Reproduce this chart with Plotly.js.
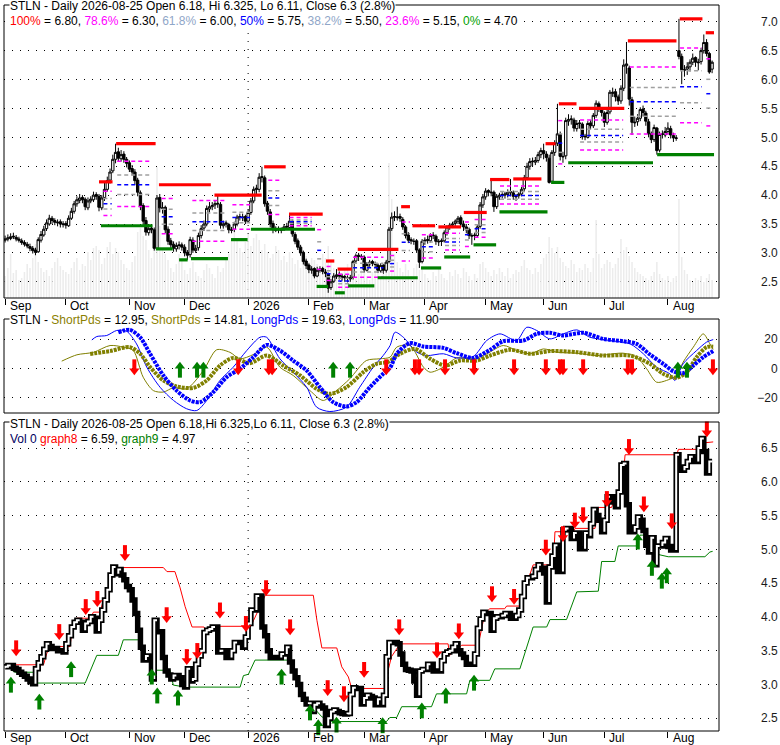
<!DOCTYPE html>
<html>
<head>
<meta charset="utf-8">
<script src="https://cdn.plot.ly/plotly-3.0.1.min.js"></script>
<style>
html,body{margin:0;padding:0;background:#fff}
#chart{width:780px;height:745px}
</style>
</head>
<body>
<div id="chart"></div>
<script>
// ---- data ----
var monthNames = ['2026','Feb','Mar','Apr','May','Jun','Jul','Aug','Sep','Oct','Nov','Dec'];

var close = [
3.24,3.26,3.28,3.28,3.24,3.22,3.18,3.15,3.12,3.08,
3.04,3.01,3.23,3.32,3.41,3.52,3.60,3.56,3.53,3.53,
3.50,3.50,3.48,3.60,3.72,3.85,3.92,3.95,3.92,3.80,
3.90,3.93,4.00,3.98,3.79,3.95,4.10,4.25,4.40,4.62,
4.74,4.64,4.70,4.62,4.55,4.45,4.40,4.25,4.05,3.80,
3.55,3.36,3.42,3.40,3.08,3.95,3.78,3.78,3.40,3.20,
3.14,3.08,3.13,3.13,3.10,3.00,2.96,3.23,3.05,3.08,
3.30,3.42,3.50,3.77,3.80,3.82,3.85,3.85,3.48,3.50,
3.50,3.40,3.40,3.50,3.62,3.62,3.62,3.55,3.70,3.90,
4.10,4.10,4.31,4.31,3.85,3.72,3.50,3.40,3.40,3.40,
3.40,3.45,3.45,3.55,3.33,3.20,3.10,3.00,2.85,2.78,
2.71,2.72,2.60,2.70,2.72,2.68,2.65,2.39,2.50,2.60,
2.62,2.60,2.58,2.57,2.56,2.57,2.85,2.95,2.94,2.94,
2.71,2.80,2.84,2.82,2.80,2.70,2.78,2.70,2.84,3.41,
3.62,3.62,3.62,3.60,3.45,3.30,3.22,3.21,3.20,3.05,
2.84,3.20,3.22,3.22,3.30,3.30,3.20,3.20,3.20,3.35,
3.45,3.48,3.50,3.55,3.60,3.50,3.45,3.40,3.30,3.30,
3.30,3.45,3.83,3.97,4.07,4.05,4.05,3.80,3.98,4.00,
4.00,4.02,4.05,4.05,3.98,3.98,4.02,4.10,4.30,4.50,
4.58,4.58,4.60,4.70,4.77,4.72,4.65,4.22,4.74,4.90,
5.06,4.67,4.67,5.29,5.31,5.31,5.16,5.24,5.24,5.01,
5.01,5.24,5.20,5.38,5.59,5.50,5.43,5.26,5.43,5.78,
5.78,5.70,5.63,5.85,6.25,6.27,5.66,5.26,5.26,5.33,
5.48,5.43,5.28,5.06,4.96,5.17,4.77,5.05,5.05,5.10,
5.16,5.04,4.99,4.99,6.40,6.17,6.17,6.22,6.30,6.37,
6.30,6.30,6.50,6.64,6.45,6.13,6.30];

var open = [
3.22,3.24,3.25,3.29,3.27,3.24,3.21,3.18,3.15,3.11,
3.08,3.05,3.02,3.22,3.31,3.42,3.50,3.60,3.56,3.52,
3.54,3.49,3.51,3.47,3.60,3.72,3.85,3.91,3.96,3.93,
3.78,3.90,3.92,4.01,3.98,3.78,3.96,4.10,4.26,4.42,
4.62,4.75,4.63,4.71,4.62,4.56,4.46,4.40,4.26,4.04,
3.82,3.56,3.35,3.43,3.40,3.08,3.96,3.77,3.79,3.41,
3.21,3.15,3.07,3.14,3.14,3.10,3.01,2.97,3.22,3.04,
3.09,3.30,3.43,3.50,3.76,3.80,3.83,3.86,3.84,3.47,
3.52,3.49,3.39,3.41,3.50,3.63,3.61,3.63,3.55,3.70,
3.90,4.12,4.10,4.32,4.30,3.86,3.71,3.51,3.39,3.41,
3.39,3.40,3.46,3.44,3.55,3.32,3.21,3.10,3.01,2.86,
2.79,2.70,2.73,2.60,2.70,2.73,2.67,2.64,2.40,2.51,
2.59,2.63,2.60,2.59,2.57,2.55,2.58,2.86,2.96,2.93,
2.93,2.70,2.81,2.85,2.81,2.79,2.69,2.79,2.70,2.85,
3.42,3.63,3.61,3.63,3.58,3.45,3.31,3.23,3.20,3.21,
3.05,2.85,3.20,3.23,3.21,3.31,3.29,3.19,3.21,3.21,
3.35,3.44,3.48,3.51,3.55,3.61,3.50,3.45,3.41,3.29,
3.31,3.30,3.46,3.83,3.97,4.08,4.04,4.05,3.80,3.97,
4.01,4.00,4.01,4.06,4.04,3.97,3.99,4.02,4.11,4.30,
4.50,4.59,4.57,4.60,4.70,4.77,4.71,4.64,4.24,4.74,
4.90,5.05,4.66,4.68,5.28,5.32,5.30,5.15,5.25,5.23,
5.02,5.00,5.25,5.20,5.38,5.58,5.50,5.42,5.26,5.44,
5.76,5.79,5.70,5.63,5.85,6.24,6.20,5.65,5.25,5.27,
5.33,5.49,5.42,5.27,5.06,4.96,5.16,4.78,5.06,5.04,
5.10,5.15,5.03,4.98,6.50,6.40,6.16,6.18,6.22,6.30,
6.38,6.29,6.31,6.50,6.64,6.45,6.18];

var high = [
3.30,3.32,3.34,3.35,3.31,3.28,3.25,3.22,3.19,3.16,
3.12,3.09,3.27,3.38,3.47,3.58,3.66,3.64,3.60,3.58,
3.58,3.55,3.55,3.65,3.78,3.90,3.98,4.02,4.00,3.96,
3.96,3.98,4.06,4.05,4.02,4.00,4.23,4.32,4.46,4.70,
4.89,4.82,4.78,4.76,4.66,4.60,4.52,4.45,4.30,4.08,
3.86,3.62,3.50,3.50,3.44,4.00,4.02,3.88,3.82,3.46,
3.26,3.20,3.18,3.20,3.18,3.15,3.05,3.28,3.27,3.14,
3.35,3.48,3.56,3.82,3.88,3.88,3.90,4.00,3.88,3.56,
3.56,3.52,3.45,3.54,3.66,3.68,3.68,3.66,3.75,3.95,
4.15,4.18,4.38,4.49,4.34,3.90,3.76,3.56,3.46,3.46,
3.44,3.50,3.52,3.67,3.58,3.36,3.25,3.14,3.04,2.90,
2.82,2.77,2.75,2.76,2.77,2.76,2.72,2.66,2.55,2.65,
2.72,2.68,2.64,2.62,2.61,2.62,2.88,2.99,3.00,2.98,
2.96,2.84,2.88,2.88,2.85,2.82,2.82,2.80,2.88,3.45,
3.70,3.72,3.80,3.68,3.62,3.48,3.36,3.27,3.25,3.24,
3.08,3.24,3.27,3.30,3.34,3.36,3.32,3.24,3.25,3.39,
3.48,3.52,3.54,3.58,3.64,3.65,3.56,3.50,3.44,3.34,
3.35,3.50,3.88,4.02,4.12,4.10,4.27,4.08,4.02,4.04,
4.05,4.06,4.10,4.28,4.08,4.02,4.05,4.14,4.35,4.56,
4.64,4.65,4.66,4.75,4.82,4.89,4.76,4.70,4.78,4.95,
5.58,5.10,4.75,5.34,5.40,5.38,5.34,5.30,5.30,5.26,
5.06,5.28,5.30,5.42,5.64,5.62,5.52,5.45,5.48,5.82,
5.86,5.84,5.74,5.90,6.35,6.65,6.24,5.70,5.36,5.40,
5.52,5.55,5.46,5.32,5.10,5.22,5.18,5.10,5.12,5.18,
5.26,5.20,5.08,5.04,7.05,6.45,6.25,6.30,6.35,6.45,
6.40,6.36,6.55,6.78,6.70,6.48,6.33];

var low = [
3.18,3.20,3.22,3.24,3.20,3.18,3.14,3.11,3.08,3.03,
2.99,2.96,3.00,3.18,3.28,3.38,3.47,3.50,3.48,3.46,
3.44,3.44,3.42,3.45,3.57,3.68,3.80,3.86,3.86,3.74,
3.74,3.86,3.88,3.92,3.72,3.74,3.90,4.06,4.20,4.38,
4.55,4.58,4.58,4.56,4.48,4.40,4.34,4.18,3.98,3.74,
3.48,3.30,3.30,3.34,3.04,3.06,3.70,3.68,3.34,3.14,
3.08,3.02,3.02,3.06,3.04,2.94,2.88,2.92,3.00,3.00,
3.04,3.25,3.38,3.46,3.70,3.74,3.76,3.78,3.42,3.42,
3.44,3.34,3.34,3.36,3.46,3.56,3.55,3.50,3.52,3.66,
3.86,4.02,4.05,4.22,3.80,3.66,3.44,3.34,3.36,3.34,
3.34,3.38,3.40,3.40,3.28,3.15,3.05,2.95,2.80,2.72,
2.65,2.64,2.56,2.58,2.66,2.63,2.58,2.31,2.36,2.48,
2.55,2.54,2.52,2.50,2.49,2.50,2.54,2.82,2.86,2.88,
2.66,2.68,2.76,2.77,2.74,2.65,2.66,2.64,2.66,2.82,
3.38,3.55,3.56,3.54,3.40,3.25,3.17,3.15,3.14,3.00,
2.74,2.82,3.14,3.16,3.18,3.24,3.14,3.12,3.12,3.18,
3.30,3.40,3.43,3.46,3.50,3.45,3.38,3.34,3.24,3.14,
3.22,3.26,3.42,3.78,3.92,3.98,3.98,3.71,3.76,3.92,
3.94,3.94,3.96,3.98,3.92,3.90,3.94,3.98,4.06,4.26,
4.44,4.50,4.52,4.56,4.64,4.62,4.58,4.20,4.22,4.68,
4.85,4.60,4.56,4.62,5.20,5.22,5.10,5.10,5.15,4.96,
4.95,4.98,5.14,5.16,5.34,5.44,5.36,5.18,5.22,5.40,
5.70,5.62,5.56,5.58,5.80,6.10,5.55,5.04,5.18,5.20,
5.28,5.36,5.20,5.00,4.90,4.92,4.70,4.74,4.98,5.00,
5.05,4.98,4.92,4.94,6.35,5.92,6.05,6.08,6.14,6.25,
6.22,6.16,6.26,6.45,6.40,6.10,6.11];

var volume = [
22,30,44,25,28,18,20,26,34,30,
40,54,36,30,26,28,22,30,36,40,
32,28,26,24,30,36,40,28,34,32,
46,38,50,52,48,34,40,51,56,44,
50,46,38,34,30,28,36,42,66,70,
62,58,48,40,52,131,72,50,44,38,
30,26,34,44,40,28,24,30,36,26,
22,20,28,34,30,24,20,32,26,30,
40,44,58,71,60,50,46,56,64,52,
60,64,58,48,54,46,40,44,52,48,
38,42,36,46,40,34,38,30,44,42,
36,40,38,34,30,44,40,52,36,30,
28,26,24,30,34,22,26,20,24,30,
28,22,18,26,30,24,20,28,36,135,
99,44,36,30,26,34,28,22,30,34,
28,32,24,20,18,26,22,30,24,20,
18,26,22,28,24,20,30,26,22,18,
24,20,34,36,30,26,22,28,24,30,
26,22,30,20,24,28,26,32,38,30,
28,24,30,26,34,40,44,61,50,45,
51,40,36,32,30,38,34,26,30,28,
34,30,26,40,78,44,30,34,38,36,
30,34,40,59,48,51,42,36,30,26,
24,22,20,18,22,26,36,24,20,18,
22,16,20,22,99,41,28,24,18,16,
20,18,22,16,20,24,18];

// swing high (100%) / swing low (0%) segments, in trading-day positions
var redStart = [34,40.2,55.7,75.8,93.8,102.8,116.2,120.4,127.7,143.4,147.5,156.9,166.1,175.6,184,195.7,200.5,207.8,225.5,244.3,253.7];
var redEnd   = [38.9,54.5,74.5,92.9,101.6,115,119.2,125.5,142.4,146.6,155.7,165.1,174.4,182.6,194.2,199.3,206.9,224.2,243.1,252.5,256.7];
var redLevel = [4.23,4.89,4.18,4.00,4.49,3.67,2.86,2.72,3.06,3.80,3.47,3.45,3.70,4.27,4.28,4.89,5.58,5.50,6.67,7.05,6.81];

var greenStart = [34.7,54.6,63,67.3,81.8,89,112.8,119.4,124.2,134.9,150.6,159,169.6,179,197.7,203.9,236.1];
var greenEnd   = [53.4,60.7,66.1,80.7,87.8,112.2,117,123,133.7,149.4,157.9,168.4,177.8,196.4,202.5,234.6,256.7];
var greenLevel = [3.47,3.07,2.88,2.90,3.23,3.41,2.42,2.31,2.43,2.57,2.74,2.93,3.14,3.71,4.22,4.56,4.70];

var fibStart = [35.6,40.6,56.7,67.8,82.3,95.3,103,113,116.4,120.6,126,139.4,143.6,150.9,159.3,166.5,170,179.2,200.3,208.2,226.2,244.4,253.9];
var fibEnd   = [38.6,52.5,61,80,88.7,100,111,115,118.8,124.8,137,141.2,146.6,155.1,164.7,169,175,193.7,202.1,223.8,243.1,252.2,255.8];
var fibHi    = [4.23,4.89,4.18,4.18,4.00,4.49,3.67,3.67,2.86,2.72,3.06,3.06,3.80,3.47,3.45,3.70,3.70,4.28,5.58,5.50,6.67,7.05,6.81];
var fibLo    = [3.47,3.47,3.07,2.90,3.23,3.41,3.41,2.42,2.42,2.31,2.43,2.57,2.57,2.74,2.93,2.93,3.14,3.71,4.22,4.56,4.56,4.70,4.70];
var fibRatios = [0.786,0.618,0.5,0.382,0.236];

// oscillator panel
var sfX = [20.5,26,32,38,42.8,46.4,50,53.7,57.3,61,65.7,71.8,76.6,81.4,85,89.9,94.7,99.5,104.3,110.4,115.2,120,124.8,130.8,135.7,139.4,141.8,146.6,151.5,153.9,158.7,163.5,169.5,174.4,180.4,185.2,190.1,194.9,199.7,207,214.2,223.8,228.7,232.3,235.9,239.5,243.1,245.5,249.2,252.8,255.2,256.4];
var sfY = [5,9.3,11,15.6,14.5,12.2,-5.9,-15,-16,-13,-13.8,-1.4,12.7,11,6.6,9.5,14.5,0.9,-4.7,-15,-21.7,-15,-7,5.4,6.6,7.7,14.5,15.6,0.9,-2.5,0.9,7.2,6.6,10,15.6,12.2,10,13.3,11.1,10.4,8.8,10.4,7.7,-0.2,-9.3,-8.1,-4.7,4.3,14.5,23.5,16.7,12.95];
var ssX = [30.8,38,45.2,48.9,52.5,57.3,62.1,68.2,73,77.8,82.6,88.7,94.7,100.7,106.8,112.8,117.6,123.6,129.7,134.5,138.7,143,148.4,153.9,159.3,164.7,170.8,175.6,182.8,190.1,197.3,207,216.6,226.3,233.5,238.3,243.1,246.8,250.4,254,256.4];
var ssY = [9.9,11.8,14.5,10,1,-8.1,-12.2,-13.1,-8.1,2,7.2,3.6,8.8,2,-4.7,-13.8,-17.2,-12.7,-2.5,3.2,4.5,10,13.3,6.6,2,5.4,5.4,8.8,12.7,10,11.8,11.1,8.8,8.8,3.2,-3.6,-6.3,-2.5,7.7,14.5,14.81];
var lfX = [31.4,33.2,36.8,40.4,44,47.6,51.3,56.1,61,65.7,69.4,73,77.8,82.6,87.5,92.3,94.7,99.5,104.3,109.2,112.8,117.6,123.6,128.4,133.3,136.9,139.4,141.2,144.2,149.1,152.7,158.7,163.5,169.5,174.4,179.2,185.2,188.9,192.5,197.3,202.1,207,211.8,219,226.3,231.1,235.9,240.7,242.5,245.5,250.4,254,256.4];
var lfY = [19.4,21.7,22.4,25.8,25.3,16.7,0.9,-12.7,-21.7,-27.3,-28.5,-21.7,-8.1,0.9,12.2,21.2,21.2,6.6,-2.5,-12.7,-26.2,-29.2,-26.2,-12.7,0.9,8.8,15.6,24.6,21.2,11.1,8.8,10,7.2,8.1,19,23.5,19,28,25.8,20.1,23.5,26.2,21.2,19,16.7,10,0.9,-3.6,-8.1,3.2,12.2,17.9,19.63];
var lsX = [41,45.2,48.9,52.5,57.3,62.1,67,70.6,75.4,80.2,85,89.9,94.7,99.5,104.3,109.2,114,118.8,123.6,127.3,132.1,136.9,139.4,141.8,146.6,151.5,158.7,163.5,169.5,175.6,180.4,187.7,192.5,197.3,202.1,209.4,216.6,223.8,228.7,233.5,238.3,241.9,245.5,249.2,252.8,256.4];
var lsY = [24.6,26.2,21.2,10,-4.7,-15,-21.7,-22.8,-16,-5.9,-0.2,7.7,16,12.2,5.4,-1.4,-12.7,-22.8,-25.8,-22.8,-12.7,-3.6,0.5,10,17.2,14.9,14,10.4,7.2,12.7,18.5,19,23.5,24.2,22.4,24.2,20.1,18.5,16.7,9.5,3.2,-1.8,-3.2,2,7.7,11.9];
var midDownX = [46.8,84.4,95.5,96.7,138,148.4,149.9,159.3,169.8,184.3,195.8,200.9,202,209.3,225.5,227,256.3];
var midDownY = [-0.3,-0.3,-0.3,-0.3,-0.3,-0.3,-0.3,-0.3,-0.3,-0.3,-0.3,-0.3,-0.3,-0.3,-0.3,-0.3,-0.3];
var midUpX = [63.3,69.5,71.8,118.8,124.9,243.6,246.9];
var midUpY = [0.3,0.3,0.3,0.3,0.3,0.3,0.3];

// lower panel: trailing lines and signals
var g8X = [2.4,13.9,15.1,16.3,23.5,24.1,25.9,30.8,32,34.4,35.6,37.4,38,39.2,41,57.3,58.6,61.5,63.3,65.2,67.7,72,73,74.9,75.5,89,90,94.2,111.6,112.9,114.7,120.1,121.9,124.3,125.5,137.5,138.7,139.9,143,160.4,161,162.3,164.1,165.3,171.3,173.7,175.5,180.9,181.6,187,188.2,189.8,191.2,198.5,199.1,205.8,206.4,213.6,214.8,219.6,222,223.3,224.5,243.2,243.8,250.4,251.6,256.4];
var g8Y = [3.29,3.29,3.46,3.56,3.56,3.75,3.98,3.98,4.07,4.07,4.25,4.25,4.5,4.64,4.73,4.73,4.67,4.67,4.44,4.15,3.85,3.85,3.78,3.80,3.86,3.86,3.95,4.32,4.32,3.95,3.54,3.54,3.26,3.11,2.94,2.94,3.21,3.41,3.60,3.60,3.43,3.53,3.53,3.58,3.58,4.05,4.12,4.12,4.16,4.16,4.45,4.60,4.77,4.77,5.26,5.26,5.31,5.31,5.62,5.62,5.87,5.87,6.40,6.40,6.48,6.48,6.57,6.59];
var g9X = [2.4,3.6,10.3,10.9,29,33.2,41,42.8,48.9,51.3,54.9,59.7,60.9,65.2,85.1,86.3,88.1,90.5,102.6,105,108.6,111.6,114.7,118.3,138.1,139.3,141.8,143.6,154.4,156.2,167.1,168.3,175.5,177.3,186.4,188.8,191.2,196.1,197.3,203.3,207,214.8,216,220.8,222,228.7,229.9,232.3,234.7,240.1,253.4,255.2,256.2];
var g9Y = [3.21,3.18,3.18,3.02,3.02,3.43,3.43,3.66,3.66,3.41,3.21,3.21,2.99,2.96,2.96,3.13,3.15,3.36,3.36,3.16,2.71,2.66,2.52,2.45,2.45,2.51,2.51,2.67,2.67,2.86,2.86,3.06,3.06,3.23,3.23,3.55,3.85,3.85,3.96,3.96,4.37,4.38,4.82,4.82,5.05,5.05,5.21,5.21,4.94,4.89,4.89,4.96,4.97];
var sellX = [4,19.6,29.2,33.4,43.4,58.5,65.8,69.6,77.8,87.2,94.5,103.2,116.8,122.7,130,142.7,156.4,164.3,176.3,184.3,195.8,202,206.3,209.3,217.9,225.9,231.3,241.4,254.1];
var sellY = [3.51,3.75,4.12,4.24,4.92,4.0,3.38,3.47,4.07,3.87,4.4,3.82,2.92,2.83,3.19,3.82,3.48,3.76,4.31,4.27,5.0,5.2,5.4,5.48,5.72,6.49,5.64,5.39,6.75];
var buyX = [2.1,12.4,23.9,53.1,55.1,62.6,100.1,110.4,113.4,120,136.7,150.9,159.6,169.8,229.1,234.2,237.8,239.6];
var buyY = [3.02,2.77,3.25,3.14,2.86,2.83,3.14,2.61,2.39,2.43,2.42,2.64,2.86,3.05,5.14,4.75,4.56,4.64];

// ---- layout helpers ----
var W = 780, H = 745;
function py(p){ return 1 - p / H; }
function px(p){ return p / W; }
var FONT = 'Liberation Sans, Arial, sans-serif';

// trading days (weekdays) Sep 1 2025 .. Aug 25 2026
var days = [];
var d = new Date(Date.UTC(2025, 8, 1));
var last = new Date(Date.UTC(2026, 7, 25));
while (d <= last) {
  var wd = d.getUTCDay();
  if (wd !== 0 && wd !== 6) days.push(new Date(d.getTime()));
  d.setUTCDate(d.getUTCDate() + 1);
}
var idx = days.map(function(_, i){ return i; });
var monthTicks = [], monthText = [];
days.forEach(function(day, i){
  if (i === 0 || day.getUTCMonth() !== days[i-1].getUTCMonth()) {
    monthTicks.push(i);
    monthText.push(monthNames[day.getUTCMonth()]);
  }
});
var yearTick = monthTicks[monthText.indexOf('2026')];

var traces = [];

// volume in the background of the top panel
traces.push({type:'bar', x:idx, y:volume, xaxis:'x', yaxis:'y',
  marker:{color:'#ececec', line:{width:0}}, width:0.55, hoverinfo:'skip'});

// fib levels
var fibColors = ['#ff00ff','#a0a0a0','#0000ff','#a0a0a0','#ff00ff'];
fibRatios.forEach(function(r, k){
  var xs = [], ys = [];
  for (var j = 0; j < fibStart.length; j++) {
    var v = fibLo[j] + r * (fibHi[j] - fibLo[j]);
    xs.push(fibStart[j], fibEnd[j], null); ys.push(v, v, null);
  }
  traces.push({type:'scatter', mode:'lines', x:xs, y:ys, xaxis:'x', yaxis:'y4',
    line:{color:fibColors[k], width:1.5, dash:'4px,3px'}, hoverinfo:'skip'});
});
function segTrace(s, e, v, color){
  var xs = [], ys = [];
  for (var j = 0; j < s.length; j++) { xs.push(s[j], e[j], null); ys.push(v[j], v[j], null); }
  return {type:'scatter', mode:'lines', x:xs, y:ys, xaxis:'x', yaxis:'y4',
    line:{color:color, width:3.2}, hoverinfo:'skip'};
}
traces.push(segTrace(redStart, redEnd, redLevel, '#ff0000'));
traces.push(segTrace(greenStart, greenEnd, greenLevel, '#008000'));

// candles
traces.push({type:'candlestick', x:idx, open:open, high:high, low:low, close:close,
  xaxis:'x', yaxis:'y4', whiskerwidth:0,
  increasing:{line:{color:'#000', width:1}, fillcolor:'#fff'},
  decreasing:{line:{color:'#000', width:1}, fillcolor:'#000'},
  hoverinfo:'skip'});

// oscillator
traces.push({type:'scatter', mode:'lines', x:sfX, y:sfY, xaxis:'x2', yaxis:'y2',
  line:{color:'#808000', width:1, shape:'spline', smoothing:0.8}});
traces.push({type:'scatter', mode:'lines', x:lfX, y:lfY, xaxis:'x2', yaxis:'y2',
  line:{color:'#0000ff', width:1, shape:'spline', smoothing:0.8}});
traces.push({type:'scatter', mode:'lines', x:ssX, y:ssY, xaxis:'x2', yaxis:'y2',
  line:{color:'#808000', width:4, shape:'spline', smoothing:0.8, dash:'3px,1px'}});
traces.push({type:'scatter', mode:'lines', x:lsX, y:lsY, xaxis:'x2', yaxis:'y2',
  line:{color:'#0000ff', width:4, shape:'spline', smoothing:0.8, dash:'3px,1px'}});

function arrows(xs, ys, up, color, xa, ya, ppu){
  var s = up ? -1 : 1;
  var head = ys.map(function(v){ return v - s * 1.75 / ppu; });
  var stem = ys.map(function(v){ return v + s * 4 / ppu; });
  return [
    {type:'scatter', mode:'markers', x:xs, y:stem, xaxis:xa, yaxis:ya, cliponaxis:false,
      marker:{symbol:'line-ns', size:8, color:color, line:{color:color, width:4}}, hoverinfo:'skip'},
    {type:'scatter', mode:'markers', x:xs, y:head, xaxis:xa, yaxis:ya, cliponaxis:false,
      marker:{symbol:up ? 'triangle-up' : 'triangle-down', size:9, color:color, line:{width:0}}, hoverinfo:'skip'}
  ];
}
var midPPU = 1.475, lowPPU = 67.6;
traces = traces.concat(arrows(midDownX, midDownY, false, '#ff0000', 'x2', 'y2', midPPU));
traces = traces.concat(arrows(midUpX, midUpY, true, '#008000', 'x2', 'y2', midPPU));

// lower panel
traces.push({type:'scatter', mode:'lines', x:g8X, y:g8Y, xaxis:'x3', yaxis:'y3',
  line:{color:'#ff0000', width:1}});
traces.push({type:'scatter', mode:'lines', x:g9X, y:g9Y, xaxis:'x3', yaxis:'y3',
  line:{color:'#008000', width:1}});
traces.push({type:'scatter', mode:'lines', x:idx, y:close, xaxis:'x3', yaxis:'y3',
  line:{color:'#000', width:5.5, shape:'vh'}});
var wx = [], wy = [];
for (var i = 1; i < close.length; i++) {
  if (close[i] > close[i-1]) {
    if (wx.length && wx[wx.length-1] === i-1) { wx.push(i); wy.push(close[i]); }
    else {
      if (wx.length) { wx.push(null); wy.push(null); }
      wx.push(i-1, i); wy.push(close[i-1], close[i]);
    }
  }
}
traces.push({type:'scatter', mode:'lines', x:wx, y:wy, xaxis:'x3', yaxis:'y3',
  line:{color:'#fff', width:2, shape:'vh'}, connectgaps:false});
traces = traces.concat(arrows(sellX, sellY, false, '#ff0000', 'x3', 'y3', lowPPU));
traces = traces.concat(arrows(buyX, buyY, true, '#008000', 'x3', 'y3', lowPPU));

// ---- axes ----
var xr = [-0.4, 258.5];
var xdom = [px(4), px(719)];
function xAxis(anchor, withTicks){
  return {domain:xdom, range:xr, anchor:anchor, showgrid:false, zeroline:false,
    showline:false, showticklabels:false, ticks:withTicks ? 'outside' : '',
    ticklen:6, tickcolor:'#000', tickwidth:1, tickvals:monthTicks,
    rangeslider:{visible:false}, fixedrange:true};
}
var gridDash = '1px,7px';
function yAxis(dom, range, vals, fmt){
  return {domain:dom, range:range, anchor:'free', position:0.997, side:'left',
    tickvals:vals, tickformat:fmt, ticks:'', showline:false, zeroline:false,
    showgrid:true, gridcolor:'#000', gridwidth:1, griddash:gridDash,
    tickfont:{family:FONT, size:12, color:'#1a1a1a'}, fixedrange:true};
}
var topDom = [py(298), py(5)];
var midDom = [py(413), py(319)];
var lowDom = [py(731), py(422)];

var layout = {
  width:W, height:H, autosize:false,
  margin:{l:0, r:0, t:0, b:0, pad:0},
  paper_bgcolor:'#fff', plot_bgcolor:'rgba(0,0,0,0)',
  showlegend:false, hovermode:false, dragmode:false,
  boxgap:0.15, boxgroupgap:0,
  font:{family:FONT, size:12, color:'#000'},
  xaxis:xAxis('y', true),
  xaxis2:xAxis('y2', false),
  xaxis3:xAxis('y3', true),
  yaxis:{domain:topDom, range:[0, 293], visible:false, fixedrange:true},
  yaxis4:Object.assign(yAxis(topDom, [2.22, 7.29], [2.5,3,3.5,4,4.5,5,5.5,6,6.5,7], '.1f'), {overlaying:'y'}),
  yaxis2:yAxis(midDom, [-30.2, 33.6], [-20,0,20], 'd'),
  yaxis3:yAxis(lowDom, [2.31, 6.885], [2.5,3,3.5,4,4.5,5,5.5,6,6.5], '.1f'),
  shapes:[],
  annotations:[]
};

// panel frames
[[5,298],[319,413],[422,731]].forEach(function(p){
  layout.shapes.push({type:'rect', xref:'paper', yref:'paper', x0:px(4), x1:px(719),
    y0:py(p[1]), y1:py(p[0]), line:{color:'#000', width:1}, layer:'above'});
});
// year separator
[topDom, lowDom].forEach(function(dom){
  layout.shapes.push({type:'line', xref:'x', yref:'paper', x0:yearTick, x1:yearTick,
    y0:dom[0], y1:dom[1], line:{color:'#000', width:1, dash:gridDash}, layer:'below'});
});

// month labels
monthTicks.forEach(function(t, k){
  [306, 738].forEach(function(yp){
    layout.annotations.push({xref:'x', yref:'paper', x:t + 1.3, y:py(yp), xanchor:'left',
      yanchor:'middle', text:monthText[k], showarrow:false, borderpad:0,
      font:{family:FONT, size:12, color:'#000'}});
  });
});

function header(text, yp){
  layout.annotations.push({xref:'paper', yref:'paper', x:px(9), y:py(yp), xanchor:'left',
    yanchor:'middle', text:text, showarrow:false, bgcolor:'#fff', borderpad:0,
    font:{family:FONT, size:12, color:'#000'}});
}
function c(col, t){ return '<span style="color:' + col + '">' + t + '</span>'; }
header('STLN - Daily 2026-08-25 Open 6.18, Hi 6.325, Lo 6.11, Close 6.3 (2.8%)', 6);
header(c('#ff0000','100%') + ' = 6.80, ' + c('#ff00ff','78.6%') + ' = 6.30, ' +
  c('#8fa6c8','61.8%') + ' = 6.00, ' + c('#0000ff','50%') + ' = 5.75, ' +
  c('#8fa6c8','38.2%') + ' = 5.50, ' + c('#ff00ff','23.6%') + ' = 5.15, ' +
  c('#00a000','0%') + ' = 4.70', 21);
header('STLN - ' + c('#8b8000','ShortPds') + ' = 12.95, ' + c('#8b8000','ShortPds') +
  ' = 14.81, ' + c('#0000ff','LongPds') + ' = 19.63, ' + c('#0000ff','LongPds') + ' = 11.90', 320);
header('STLN - Daily 2026-08-25 Open 6.18,Hi 6.325,Lo 6.11, Close 6.3 (2.8%)', 424);
header(c('#000060','Vol 0') + ' ' + c('#ff0000','graph8') + ' = 6.59, ' +
  c('#008000','graph9') + ' = 4.97', 439);

Plotly.newPlot('chart', traces, layout, {staticPlot:true, displayModeBar:false});
</script>
</body>
</html>
